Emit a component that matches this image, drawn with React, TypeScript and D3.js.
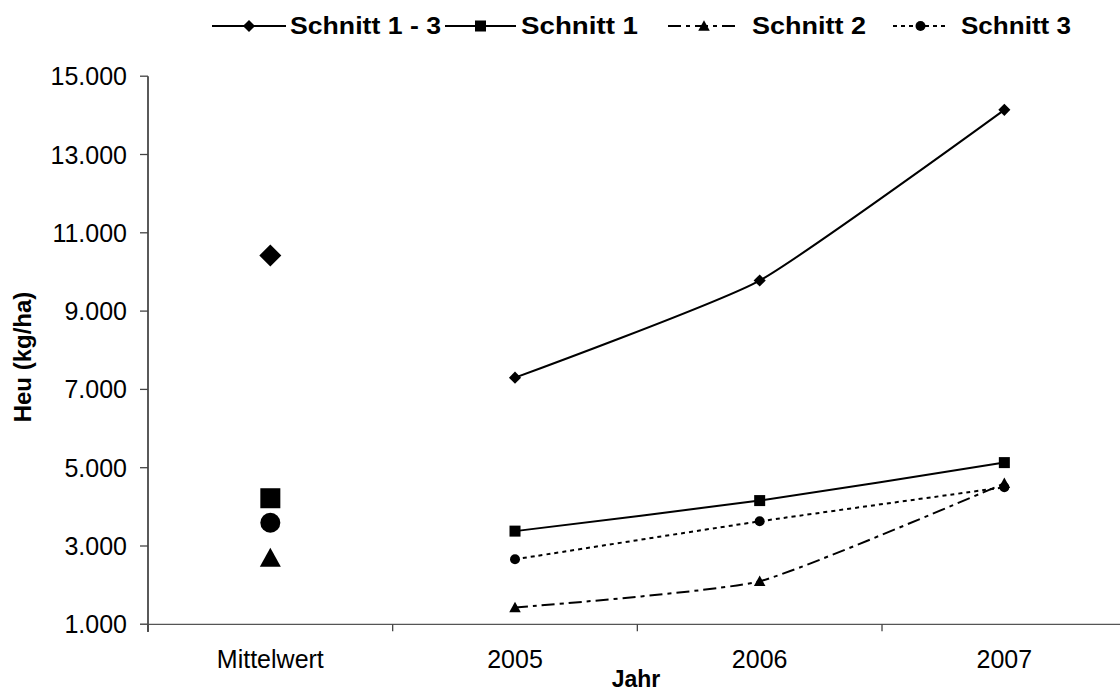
import React from "react";
import * as d3 from "d3";

const categories = ["Mittelwert", "2005", "2006", "2007"];
const years = ["2005", "2006", "2007"];
const seriesNames = ["Schnitt 1 - 3", "Schnitt 1", "Schnitt 2", "Schnitt 3"];
const schnitt13 = [7300, 9780, 14140];
const schnitt1 = [3380, 4160, 5130];
const schnitt2 = [1430, 2100, 4600];
const schnitt3 = [2660, 3630, 4500];
const mittelwerte = [10420, 4220, 2690, 3595];
const yTicks = [1000, 3000, 5000, 7000, 9000, 11000, 13000, 15000];

const W = 1120;
const H = 693;
const FONT = "'Liberation Sans', Arial, Helvetica, sans-serif";

const x = d3.scaleBand().domain(categories).range([148, 148 + 244.67 * 4]).paddingInner(0).paddingOuter(0);
const y = d3.scaleLinear().domain([1000, 15000]).range([624.3, 76.2]);
const cx = (c: string) => (x(c) as number) + x.bandwidth() / 2;

const fmt = (v: number) => d3.format(",")(v).replace(/,/g, ".");

type Shape = "diamond" | "square" | "triangle" | "circle";
const shapes: Shape[] = ["diamond", "square", "triangle", "circle"];
const dashes = ["none", "none", "13,5,4,5", "4,4"];
const seriesData = [schnitt13, schnitt1, schnitt2, schnitt3];

function Marker({ shape, x0, y0, s }: { shape: Shape; x0: number; y0: number; s: number }) {
  const h = s / 2;
  if (shape === "diamond")
    return <path d={`M${x0},${y0 - h * 1.1}L${x0 + h * 1.1},${y0}L${x0},${y0 + h * 1.1}L${x0 - h * 1.1},${y0}Z`} fill="#000" />;
  if (shape === "square") return <rect x={x0 - h} y={y0 - h} width={s} height={s} fill="#000" />;
  if (shape === "circle") return <circle cx={x0} cy={y0} r={h} fill="#000" />;
  return <path d={`M${x0},${y0 - h * 1.05}L${x0 + h * 1.05},${y0 + h * 0.85}L${x0 - h * 1.05},${y0 + h * 0.85}Z`} fill="#000" />;
}

const legendItems = [
  { ls: 212, le: 286, tx: 290, tw: 151 },
  { ls: 445, le: 516, tx: 521, tw: 117 },
  { ls: 668, le: 740, tx: 752, tw: 114 },
  { ls: 893, le: 948, tx: 961, tw: 110 },
];

export default function App() {
  const line = d3
    .line<number>()
    .x((_, i) => cx(years[i]))
    .y((d) => y(d))
    .curve(d3.curveCardinal.tension(0.5));

  const xEnd = x.range()[1];
  return (
    <svg width={W} height={H} style={{ position: "absolute", left: 0, top: 0, background: "#fff" }} fontFamily={FONT}>
      <rect width={W} height={H} fill="#fff" />
      {/* y axis */}
      <line x1={148} x2={148} y1={76.2} y2={632} stroke="#000" strokeWidth={1.3} />
      {yTicks.map((t) => (
        <g key={t}>
          <line x1={140} x2={148} y1={y(t)} y2={y(t)} stroke="#444" strokeWidth={1.3} />
          <text x={127} y={y(t)} dy="0.36em" textAnchor="end" fontSize={25} fill="#000">
            {fmt(t)}
          </text>
        </g>
      ))}
      {/* x axis */}
      <line x1={140} x2={xEnd} y1={y(1000)} y2={y(1000)} stroke="#555" strokeWidth={1.3} />
      {categories.map((c, i) => (
        <line key={"t" + i} x1={x(c) as number} x2={x(c) as number} y1={y(1000)} y2={y(1000) + 7} stroke="#444" strokeWidth={1.3} />
      ))}
      {categories.map((c) => (
        <text key={c} x={cx(c)} y={668} textAnchor="middle" fontSize={25} fill="#000">
          {c}
        </text>
      ))}
      <text x={636} y={687} textAnchor="middle" fontSize={23} fontWeight="bold">
        Jahr
      </text>
      <text transform={`translate(31,357) rotate(-90)`} textAnchor="middle" fontSize={24} fontWeight="bold">
        Heu (kg/ha)
      </text>
      {/* lines */}
      {seriesData.map((d, k) => (
        <path key={"l" + k} d={line(d) || ""} fill="none" stroke="#000" strokeWidth={2} strokeDasharray={dashes[k]} />
      ))}
      {seriesData.map((d, k) =>
        d.map((v, i) => <Marker key={`m${k}-${i}`} shape={shapes[k]} x0={cx(years[i])} y0={y(v)} s={k === 3 ? 10 : 11} />)
      )}
      {mittelwerte.map((v, k) => (
        <Marker key={"mw" + k} shape={shapes[k]} x0={cx("Mittelwert")} y0={y(v)} s={20} />
      ))}
      {/* legend */}
      {legendItems.map((it, k) => (
        <g key={"lg" + k}>
          <line x1={it.ls} x2={it.le} y1={26} y2={26} stroke="#000" strokeWidth={2} strokeDasharray={dashes[k]} />
          <Marker shape={shapes[k]} x0={(it.ls + it.le) / 2} y0={26} s={k === 3 ? 10 : 11} />
          <text x={it.tx} y={26} dy="0.36em" fontSize={23} fontWeight="bold" textLength={it.tw} lengthAdjust="spacingAndGlyphs">
            {seriesNames[k]}
          </text>
        </g>
      ))}
    </svg>
  );
}
